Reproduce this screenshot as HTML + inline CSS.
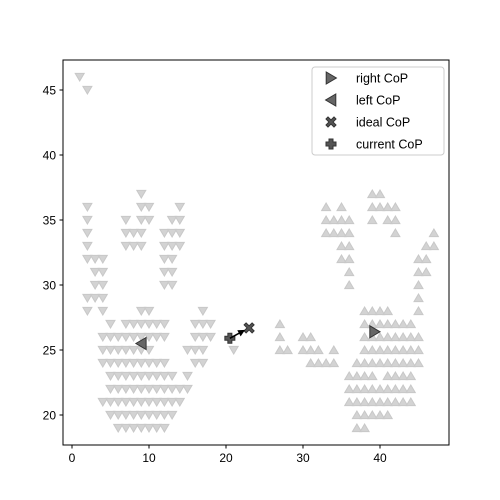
<!DOCTYPE html>
<html><head><meta charset="utf-8"><style>
body{margin:0;background:#fff}
svg{display:block;font-family:"Liberation Sans",sans-serif}
</style></head><body>
<svg id="c" width="500" height="500"></svg>
<script>
const downYs=[46,45,37,36,35,34,33,32,31,30,29,28,27,26,25,24,23,22,21,20,19];
const downXs=[[1],[2],[9],[2,9,10,14],[2,7,9,10,13,14],[2,7,8,9,12,13,14],[2,7,8,9,12,13,14],[2,3,4,12,13],[3,4,12,13],[3,4,12,13],[2,3,4],[2,4,9,10,17],
[5,7,8,9,10,11,12,16,17,18],[4,5,6,7,8,9,10,11,12,16,17,18],[4,5,6,7,8,9,10,15,16,17,21],[4,5,6,7,8,9,10,11,12,16,17],
[5,6,7,8,9,10,11,12,13,15],[5,6,7,8,9,10,11,12,13,14,15],[4,5,6,7,8,9,10,11,12,13,14],[5,6,7,8,9,10,11,12,13],[6,7,8,9,10,11,12]];
const upYs=[37,36,35,34,33,32,31,30,29,28,27,26,25,24,23,22,21,20,19];
const upXs=[[39,40],[33,35,39,40,41,42],[33,34,35,36,39,41,42],[33,34,35,36,42,47],[35,36,46,47],[35,36,45,46],[36,45,46],[36,45],[45],
[38,39,40,41,45],[27,38,39,40,41,42,43,44],[27,30,31,38,39,40,41,42,43,44,45],[27,28,30,31,32,34,38,39,40,41,42,43,44,45],
[31,32,33,34,37,38,39,40,41,42,43,44,45],[36,37,38,39,41,42,43,44],[36,37,38,39,40,41,42,43,44],[36,37,38,39,40,41,42,43,44],[37,38,39,40,41],[37,38]];
const rightCoP=[39.3,26.4], leftCoP=[9,25.5], idealCoP=[23,26.7], currentCoP=[20.5,25.9];
const xTicks=[0,10,20,30,40], yTicks=[20,25,30,35,40,45];

const NS="http://www.w3.org/2000/svg";
const svg=document.getElementById('c');
const X=v=>72+v*7.7, Y=v=>415-(v-20)*13;
function mk(t,a,p){const e=document.createElementNS(NS,t);for(const k in a)e.setAttribute(k,a[k]);(p||svg).appendChild(e);return e;}
const frame=mk('rect',{x:63,y:60,width:386,height:385,fill:'none',stroke:'#000','stroke-width':1});


const tri=(cx,cy,dir,s)=>{let p;
 if(dir=='d')p=[[cx-s,cy-s*0.8],[cx+s,cy-s*0.8],[cx,cy+s*0.9]];
 else if(dir=='u')p=[[cx-s,cy+s*0.8],[cx+s,cy+s*0.8],[cx,cy-s*0.9]];
 else if(dir=='r')p=[[cx-s*0.8,cy-s],[cx-s*0.8,cy+s],[cx+s*0.9,cy]];
 else p=[[cx+s*0.8,cy-s],[cx+s*0.8,cy+s],[cx-s*0.9,cy]];
 return p.map(q=>q.join(',')).join(' ');};
downYs.forEach((y,i)=>downXs[i].forEach(x=>{
 const e=mk('polygon',{points:tri(X(x),Y(y),'d',4.5),fill:'#d3d3d3',stroke:'#c8c8c8'});
 
 
}));
upYs.forEach((y,i)=>upXs[i].forEach(x=>{
 const e=mk('polygon',{points:tri(X(x),Y(y),'u',4.5),fill:'#d3d3d3',stroke:'#c8c8c8'});
 
 
}));
function xMark(cx,cy,s,name){const g=mk('path',{d:`M${cx-s},${cy-s+2}l2,-2l${s-2},${s-2}l${s-2},${-(s-2)}l2,2l${-(s-2)},${s-2}l${s-2},${s-2}l-2,2l${-(s-2)},${-(s-2)}l${-(s-2)},${s-2}l-2,-2l${s-2},${-(s-2)}z`,fill:'#555',stroke:'#333'});
 }
function plusMark(cx,cy,s,name){const w=2;const g=mk('path',{d:`M${cx-w},${cy-s}h${2*w}v${s-w}h${s-w}v${2*w}h${-(s-w)}v${s-w}h${-2*w}v${-(s-w)}h${-(s-w)}v${-2*w}h${s-w}z`,fill:'#555',stroke:'#333'});
 }
let e=mk('polygon',{points:tri(X(rightCoP[0]),Y(rightCoP[1]),'r',6),fill:'#666',stroke:'#333'});


e=mk('polygon',{points:tri(X(leftCoP[0]),Y(leftCoP[1]),'l',6),fill:'#666',stroke:'#333'});


plusMark(X(currentCoP[0]),Y(currentCoP[1]),5,'current-cop-marker');
xMark(X(idealCoP[0]),Y(idealCoP[1]),5,'ideal-cop-marker');
// arrow
const x1=X(currentCoP[0]),y1=Y(currentCoP[1]),x2=X(idealCoP[0])-4,y2=Y(idealCoP[1])+2;
const ang=Math.atan2(y2-y1,x2-x1);
e=mk('line',{x1:x1,y1:y1,x2:x2-6*Math.cos(ang),y2:y2-6*Math.sin(ang),stroke:'#000','stroke-width':1.5});


const hx=x2,hy=y2,bx=x2-7*Math.cos(ang),by=y2-7*Math.sin(ang);
e=mk('polygon',{points:`${hx},${hy} ${bx+3.5*Math.sin(ang)},${by-3.5*Math.cos(ang)} ${bx-3.5*Math.sin(ang)},${by+3.5*Math.cos(ang)}`,fill:'#000'});


xTicks.forEach(t=>{
 const l=mk('line',{x1:X(t),x2:X(t),y1:445,y2:448.5,stroke:'#000'});
 
 
 const tx=mk('text',{x:X(t),y:462,'text-anchor':'middle','font-size':12});tx.textContent=t;
 
 
});
yTicks.forEach(t=>{
 const l=mk('line',{x1:59.5,x2:63,y1:Y(t),y2:Y(t),stroke:'#000'});
 
 
 const tx=mk('text',{x:56,y:Y(t)+4.5,'text-anchor':'end','font-size':12});tx.textContent=t;
 
 
});
// legend
const lg=mk('g',{});


mk('rect',{x:312,y:67,width:132,height:88,rx:3,fill:'#fff',stroke:'#ccc'},lg);
const labels=['right CoP','left CoP','ideal CoP','current CoP'];
labels.forEach((s,i)=>{
 const cy=78+i*22,cx=331;
 if(i==0)mk('polygon',{points:tri(cx,cy,'r',6),fill:'#666',stroke:'#333'},lg);
 if(i==1)mk('polygon',{points:tri(cx,cy,'l',6),fill:'#666',stroke:'#333'},lg);
 const t=mk('text',{x:356,y:cy+4.5,'font-size':12.5},lg);t.textContent=s;
 
 
});
xMark(331,122,5,'legend-ideal-icon');
plusMark(331,144,5,'legend-current-icon');
</script>
</body></html>
